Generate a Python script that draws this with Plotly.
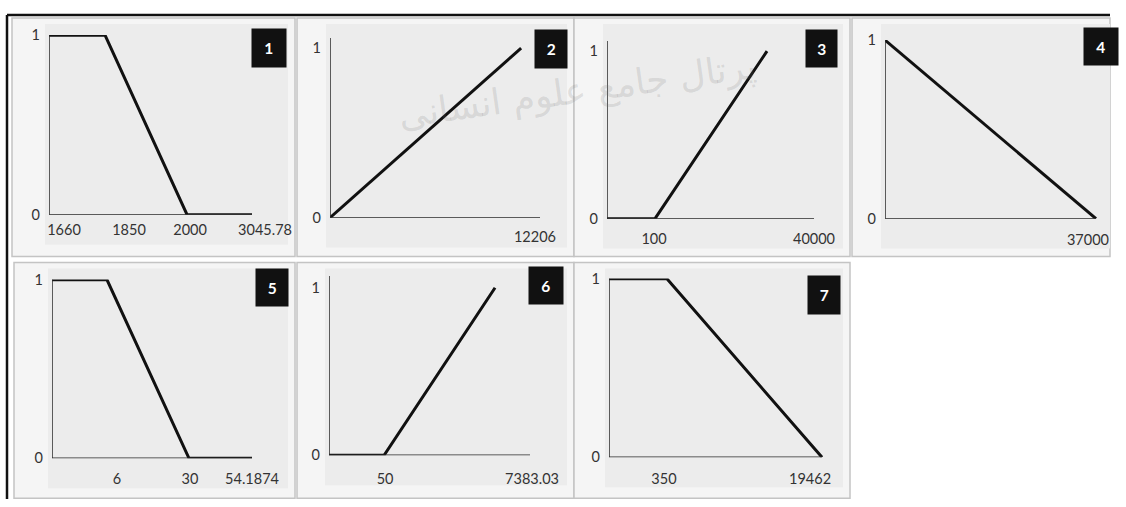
import plotly.graph_objects as go

W, H = 1126, 507

# membership functions; x is the schematic drawn scale of each panel
# (0 = the vertical axis, 100 = end of the horizontal axis)
mf1_x = [0, 27.6, 68, 100]
mf1_mu = [1, 1, 0, 0]
mf1_tick_pos = [7.4, 39.4, 69.5, 106.4]
mf1_tick_text = ["1660", "1850", "2000", "3045.78"]

mf2_x = [0, 91]
mf2_mu = [0, 1]
mf2_tick_pos = [97.6]
mf2_tick_text = ["12206"]

mf3_x = [0, 23.2, 77.3]
mf3_mu = [0, 0, 1]
mf3_tick_pos = [22.7, 100]
mf3_tick_text = ["100", "40000"]

mf4_x = [0, 100]
mf4_mu = [1, 0]
mf4_tick_pos = [96.2]
mf4_tick_text = ["37000"]

mf5_x = [0, 27.5, 68.5, 100]
mf5_mu = [1, 1, 0, 0]
mf5_tick_pos = [32.5, 69, 100]
mf5_tick_text = ["6", "30", "54.1874"]

mf6_x = [0, 27.4, 82.6]
mf6_mu = [0, 0, 1]
mf6_tick_pos = [27.9, 101]
mf6_tick_text = ["50", "7383.03"]

mf7_x = [0, 27.2, 100]
mf7_mu = [1, 1, 0]
mf7_tick_pos = [25.8, 94.4]
mf7_tick_text = ["350", "19462"]

panel_ids = ["1", "2", "3", "4", "5", "6", "7"]
series = [
    (mf1_x, mf1_mu, mf1_tick_pos, mf1_tick_text),
    (mf2_x, mf2_mu, mf2_tick_pos, mf2_tick_text),
    (mf3_x, mf3_mu, mf3_tick_pos, mf3_tick_text),
    (mf4_x, mf4_mu, mf4_tick_pos, mf4_tick_text),
    (mf5_x, mf5_mu, mf5_tick_pos, mf5_tick_text),
    (mf6_x, mf6_mu, mf6_tick_pos, mf6_tick_text),
    (mf7_x, mf7_mu, mf7_tick_pos, mf7_tick_text),
]

# layout of the panels in pixels: axis x start/end, y of mu=0 / mu=1, axis top (in mu),
# label standoff, cell box, number box
panels = [
    dict(x0=47, x1=250, y0=214, y1=34, top=1.0, so=5, cell=(10, 17, 293, 256), box=(251, 30, 282, 65)),
    dict(x0=328, x1=538, y0=217, y1=47, top=1.06, so=9, cell=(295, 17, 572, 256), box=(534, 31, 564, 66)),
    dict(x0=605, x1=812, y0=218, y1=50, top=1.06, so=10, cell=(572, 17, 848, 256), box=(805, 31, 834, 65)),
    dict(x0=883, x1=1094, y0=218, y1=39, top=1.0, so=11, cell=(850, 17, 1122, 256), box=(1083, 29, 1114, 63)),
    dict(x0=50, x1=250, y0=458, y1=279, top=1.0, so=10, cell=(12, 262, 293, 498), box=(255, 270, 285, 304)),
    dict(x0=327, x1=528, y0=455, y1=287, top=1.07, so=13, cell=(295, 262, 572, 498), box=(528, 268, 559, 302)),
    dict(x0=607, x1=820, y0=457, y1=278, top=1.0, so=11, cell=(572, 262, 848, 498), box=(807, 277, 837, 312)),
]

# the photographed page comes out slightly shrunk and shifted; undo that here
SX, SY, OY = 0.984, 0.968, 8.0


def fx(p):
    return (p / SX) / W


def fy(p):
    return 1 - ((p - OY) / SY) / H


fig = go.Figure()
shapes = []
annotations = []
layout = {}
font_ticks = dict(family="Lato, Open Sans, sans-serif", size=14.5, color="#333333")

for i, (pid, (xs, mu, tpos, ttext), p) in enumerate(zip(panel_ids, series, panels), start=1):
    sfx = "" if i == 1 else str(i)
    unit = (p["y0"] - p["y1"])
    ytop_px = p["y0"] - unit * p["top"]

    # cell background and inner plot area
    cx0, cy0, cx1, cy1 = p["cell"]
    shapes.append(dict(type="rect", xref="paper", yref="paper", layer="below",
                       x0=fx(cx0), x1=min(fx(cx1), 1), y0=fy(cy1), y1=fy(cy0),
                       fillcolor="#f5f5f5", line=dict(color="#c4c4c4", width=1.5)))
    shapes.append(dict(type="rect", xref="paper", yref="paper", layer="below",
                       x0=fx(p["x0"] - 4), x1=min(fx(cx1 - 7), 1), y0=fy(p["y0"] + 30), y1=fy(cy0 + 6),
                       fillcolor="#ececec", line=dict(width=0)))

    d0 = fx(p["x0"])
    d1 = min(fx(p["x1"] + 24), 1.0)
    layout["xaxis" + sfx] = dict(
        domain=[d0, d1],
        range=[0, 100 * (d1 - d0) / (fx(p["x1"]) - d0)],
        anchor="y" + sfx, showgrid=False, zeroline=False, showline=False,
        tickmode="array", tickvals=tpos, ticktext=ttext, ticks="",
        ticklabelstandoff=p["so"], tickfont=font_ticks, fixedrange=True,
    )
    layout["yaxis" + sfx] = dict(
        domain=[fy(p["y0"]), fy(ytop_px)],
        range=[0, p["top"] + 0.001],
        anchor="x" + sfx, showgrid=False, zeroline=False, showline=False,
        tickmode="array", tickvals=[0, 1], ticktext=["0", "1"], ticks="",
        ticklabelstandoff=8, tickfont=font_ticks, fixedrange=True,
    )

    # axis lines
    xr, yr = "x" + sfx, "y" + sfx
    shapes.append(dict(type="line", xref=xr, yref=yr, x0=0, x1=100, y0=0, y1=0,
                       line=dict(color="#2a2a2a", width=1.5)))
    shapes.append(dict(type="line", xref=xr, yref=yr, x0=0, x1=0, y0=0, y1=p["top"],
                       line=dict(color="#2a2a2a", width=1.5)))

    fig.add_trace(go.Scatter(
        x=xs, y=mu, mode="lines", xaxis=xr, yaxis=yr, cliponaxis=False,
        line=dict(color="#111111", width=3), showlegend=False, hoverinfo="skip",
    ))

    bx0, by0, bx1, by1 = p["box"]
    annotations.append(dict(
        xref="paper", yref="paper", x=fx((bx0 + bx1) / 2), y=fy((by0 + by1) / 2),
        xanchor="center", yanchor="middle", showarrow=False,
        text="<b>%s</b>" % pid, font=dict(family="Lato, sans-serif", size=15.5, color="white"),
        bgcolor="#111111", width=(bx1 - bx0) / SX, height=(by1 - by0) / SY,
    ))

# outer frame lines
shapes.append(dict(type="line", xref="paper", yref="paper", x0=fx(5), x1=1, y0=fy(14), y1=fy(14),
                   line=dict(color="#111111", width=2.5)))
shapes.append(dict(type="line", xref="paper", yref="paper", x0=fx(5), x1=fx(5), y0=fy(14), y1=0,
                   line=dict(color="#111111", width=2.5)))

# faint watermark of the source
annotations.append(dict(
    xref="paper", yref="paper", x=fx(575), y=fy(90), xanchor="center", yanchor="middle",
    showarrow=False, text="پرتال جامع علوم انسانی", textangle=-8,
    font=dict(family="DejaVu Sans, Noto Sans, sans-serif", size=36, color="rgba(110,110,110,0.18)"),
))

fig.update_layout(
    width=W, height=H, margin=dict(l=0, r=0, t=0, b=0),
    paper_bgcolor="white", plot_bgcolor="rgba(0,0,0,0)",
    shapes=shapes, annotations=annotations, **layout,
)

# drop the default page margin so the figure sits at the window corner
pin = (
    "document.documentElement.style.overflow='hidden';"
    "document.body.style.margin='0px';"
)
fig.write_html("out.html", config={"displayModeBar": False}, post_script=pin)
